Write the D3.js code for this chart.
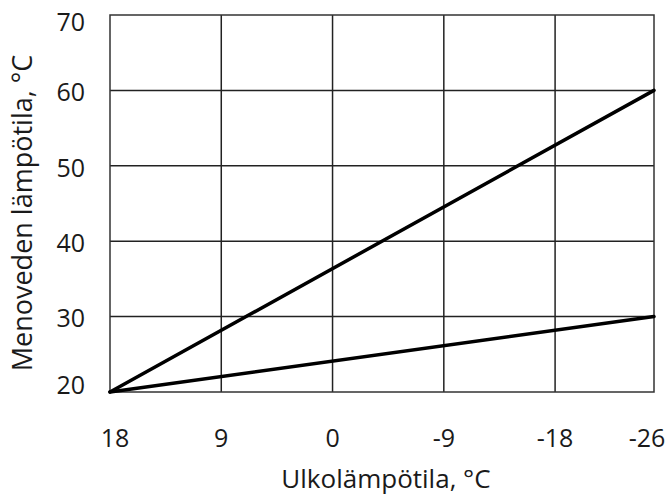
<!DOCTYPE html>
<html>
<head>
<meta charset="utf-8">
<script src="https://cdn.jsdelivr.net/npm/d3@7"></script>
<style>
  body { margin: 0; background: #fff; }
  svg { display: block; }
  text { font-family: "Open Sans", sans-serif; fill: #1a1a1a; }
</style>
</head>
<body>
<svg id="canvas" width="666" height="499"></svg>
<script>
"use strict";

// === Data ===
let xTicks = [18, 9, 0, -9, -18, -26];        // outdoor temperature
let yTicks = [20, 30, 40, 50, 60, 70];        // supply water temperature
let outdoorTemps = [18, -26];
let steepCurve = [20, 60];
let flatCurve = [20, 30];

let xTitle = "Ulkolämpötila, °C";
let yTitle = "Menoveden lämpötila, °C";

// === Layout ===
let svg = d3.select("#canvas");
let plot = { left: 110, right: 654, top: 15, bottom: 392 };

let x = d3.scaleLinear().domain([18, -26]).range([plot.left, plot.right]);
let y = d3.scaleLinear().domain([20, 70]).range([plot.bottom, plot.top]);

// === Grid ===
svg.append("g")
  .selectAll("line")
  .data(xTicks.slice(1, -1))
  .join("line")
  .attr("x1", d => x(d)).attr("x2", d => x(d))
  .attr("y1", plot.top).attr("y2", plot.bottom)
  .attr("stroke", "#222")
  .attr("stroke-width", 1.5);

svg.append("g")
  .selectAll("line")
  .data(yTicks.slice(1, -1))
  .join("line")
  .attr("x1", plot.left).attr("x2", plot.right)
  .attr("y1", d => y(d)).attr("y2", d => y(d))
  .attr("stroke", "#222")
  .attr("stroke-width", 1.5);

// frame
svg.append("rect")
  .attr("x", plot.left).attr("y", plot.top)
  .attr("width", plot.right - plot.left).attr("height", plot.bottom - plot.top)
  .attr("fill", "none")
  .attr("stroke", "#333")
  .attr("stroke-width", 1.5);

// === Curves ===
let line = d3.line()
  .x((d, i) => x(outdoorTemps[i]))
  .y(d => y(d));

[steepCurve, flatCurve].forEach(c => {
  svg.append("path")
    .attr("d", line(c))
    .attr("fill", "none")
    .attr("stroke", "#000")
    .attr("stroke-width", 3.5)
    .attr("stroke-linecap", "round");
});

// === Tick labels ===
svg.append("g")
  .selectAll("text")
  .data(xTicks)
  .join("text")
  .attr("x", (d, i) => x(d) + (i === 0 ? 5 : i === xTicks.length - 1 ? -7 : 0))
  .attr("y", 447)
  .attr("text-anchor", "middle")
  .attr("font-size", 25)
  .text(d => d);

svg.append("g")
  .selectAll("text")
  .data(yTicks)
  .join("text")
  .attr("x", 85)
  .attr("y", (d, i) => y(d) + (i === 0 ? -7 : i === yTicks.length - 1 ? 7 : 2))
  .attr("dy", "0.35em")
  .attr("text-anchor", "end")
  .attr("font-size", 25)
  .text(d => d);

// === Axis titles ===
svg.append("text")
  .attr("x", 386)
  .attr("y", 488)
  .attr("text-anchor", "middle")
  .attr("font-size", 26)
  .text(xTitle);

svg.append("text")
  .attr("transform", "translate(32,213) rotate(-90)")
  .attr("text-anchor", "middle")
  .attr("font-size", 27)
  .text(yTitle);
</script>
</body>
</html>
